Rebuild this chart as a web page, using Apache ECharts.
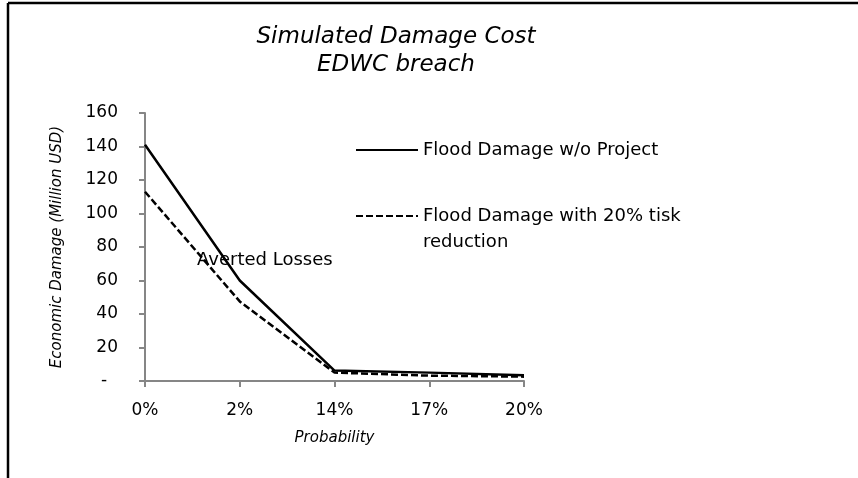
<!DOCTYPE html>
<html>
<head>
<meta charset="utf-8">
<script src="https://cdn.jsdelivr.net/npm/echarts@6/dist/echarts.min.js"></script>
<style>
  html, body { margin: 0; padding: 0; background: #fff; }
  #chartBox { width: 858px; height: 478px; }
</style>
</head>
<body>
<div id="chartBox"></div>
<script>
// probability categories on the x axis
const probabilities = ['0%', '2%', '14%', '17%', '20%']
// damage in million USD
const withoutProject = [141, 60, 6.2, 5, 3.5]
const withReduction = [113, 47.5, 5, 3.2, 2.6]
const yTicks = { min: 0, max: 160, step: 20 }

const seriesNames = ['Flood Damage w/o Project', 'Flood Damage with 20% tisk reduction']
const font = 'DejaVu Sans'

let myChart = echarts.init(document.getElementById('chartBox'))
myChart.setOption({
  animation: false,
  backgroundColor: '#fff',
  title: {
    text: 'Simulated Damage Cost\nEDWC breach',
    left: 396,
    top: 23,
    padding: 0,
    textAlign: 'center',
    textStyle: {
      fontFamily: font,
      fontStyle: 'italic',
      fontWeight: 'normal',
      fontSize: 23,
      lineHeight: 28,
      color: '#000'
    }
  },
  legend: [{
    data: [seriesNames[0]],
    orient: 'vertical',
    left: 355,
    top: 137,
    padding: 0,
    itemWidth: 62,
    itemHeight: 26,
    itemStyle: { opacity: 0 },
    textStyle: { fontFamily: font, fontSize: 18, lineHeight: 26, color: '#000' }
  }, {
    data: [seriesNames[1]],
    orient: 'vertical',
    left: 355,
    top: 177,
    padding: 0,
    itemWidth: 62,
    itemHeight: 26,
    itemStyle: { opacity: 0 },
    // blank first line keeps the icon level with the first text line
    formatter: function () {
      return ' \nFlood Damage with 20% tisk\nreduction'
    },
    textStyle: { fontFamily: font, fontSize: 18, lineHeight: 26, color: '#000' }
  }],
  grid: {
    left: 145,
    right: 334,
    top: 113,
    bottom: 97,
    containLabel: false,
    outerBoundsMode: 'none'
  },
  xAxis: {
    type: 'category',
    boundaryGap: false,
    data: probabilities,
    name: 'Probability',
    nameLocation: 'middle',
    nameGap: 50,
    nameTextStyle: { fontFamily: font, fontStyle: 'italic', fontSize: 15, color: '#000' },
    axisLine: { lineStyle: { color: '#868686', width: 2 } },
    axisTick: { show: true, length: 6, alignWithLabel: true, lineStyle: { color: '#868686', width: 2 } },
    axisLabel: { fontFamily: font, fontSize: 17, color: '#000', margin: 21, interval: 0 },
    splitLine: { show: false }
  },
  yAxis: {
    type: 'value',
    min: yTicks.min,
    max: yTicks.max,
    interval: yTicks.step,
    name: 'Economic Damage (Million USD)',
    nameLocation: 'middle',
    nameGap: 80,
    nameTextStyle: { fontFamily: font, fontStyle: 'italic', fontSize: 15, color: '#000' },
    axisLine: { show: true, lineStyle: { color: '#868686', width: 2 } },
    axisTick: { show: true, length: 6, lineStyle: { color: '#868686', width: 2 } },
    axisLabel: {
      fontFamily: font,
      fontSize: 17,
      color: '#000',
      margin: 27,
      formatter: function (v) { return v === 0 ? '-  ' : String(v) }
    },
    splitLine: { show: false }
  },
  graphic: [
    { type: 'line', shape: { x1: 8, y1: 3, x2: 858, y2: 3 }, style: { stroke: '#000', lineWidth: 2.5 } },
    { type: 'line', shape: { x1: 8, y1: 3, x2: 8, y2: 478 }, style: { stroke: '#000', lineWidth: 2.5 } },
    {
      type: 'text',
      left: 197,
      top: 251,
      z: 10,
      style: { text: 'Averted Losses', font: '18px "DejaVu Sans"', fill: '#000' }
    }
  ],
  series: [{
    name: seriesNames[0],
    type: 'line',
    symbol: 'none',
    color: '#000',
    lineStyle: { color: '#000', width: 2.5, type: 'solid' },
    data: withoutProject
  }, {
    name: seriesNames[1],
    type: 'line',
    symbol: 'none',
    color: '#000',
    lineStyle: { color: '#000', width: 2.5, type: [7, 3] },
    data: withReduction
  }]
})
</script>
</body>
</html>
